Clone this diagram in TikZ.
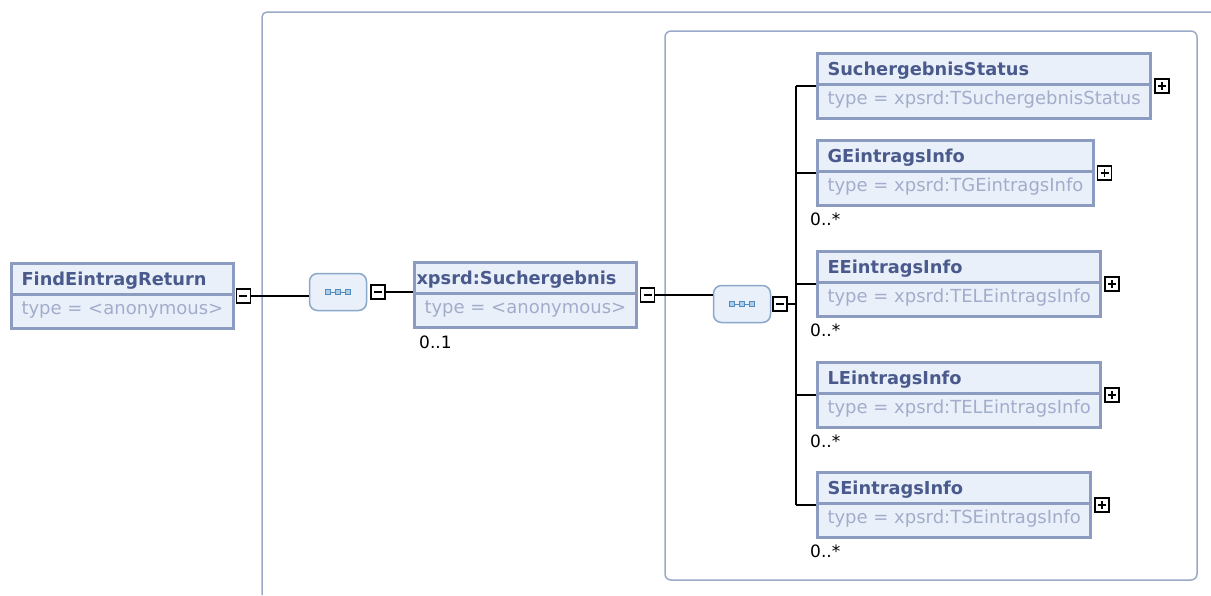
\documentclass[tikz,border=0pt]{standalone}
\usepackage{fontspec}
\setmainfont{DejaVu Sans}
\usetikzlibrary{shapes.multipart,positioning}

\definecolor{elemborder}{HTML}{8C9CC0}
\definecolor{elemfill}{HTML}{EAF0FA}
\definecolor{elemtitle}{HTML}{4A5A8C}
\definecolor{elemtype}{HTML}{A2ADCB}
\definecolor{framecol}{HTML}{9AAAC6}
\definecolor{seqborder}{HTML}{8AA8CA}
\definecolor{seqicon}{HTML}{4F8CC2}

% element box text: bold name on top, type below
\newcommand{\elemtext}[2]{\rule[-8pt]{0pt}{28pt}%
  \textcolor{elemtitle}{\fontsize{17.8}{20}\selectfont\bfseries#1}%
  \nodepart{two}\rule[-13pt]{0pt}{31pt}\textcolor{elemtype}{#2}}

\begin{document}
\begin{tikzpicture}[x=1pt, y=-1pt,
  elem/.style={rectangle split, rectangle split parts=2, rectangle split part align=left,
    draw=elemborder, line width=3pt, fill=elemfill, inner xsep=10pt, inner ysep=0pt,
    anchor=north west, font=\fontsize{18}{20}\selectfont},
  minusbox/.style={draw=black, line width=1.5pt, fill=white, minimum size=14pt,
    inner sep=0pt, anchor=west,
    path picture={\draw[line width=1.6pt]
      ([xshift=-4pt]path picture bounding box.center) --
      ([xshift=4pt]path picture bounding box.center);}},
  plusbox/.style={minusbox,
    path picture={\draw[line width=1.6pt]
      ([xshift=-4pt]path picture bounding box.center) --
      ([xshift=4pt]path picture bounding box.center)
      ([yshift=-4pt]path picture bounding box.center) --
      ([yshift=4pt]path picture bounding box.center);}},
  seq/.style={draw=seqborder, line width=1.5pt, fill=elemfill, rounded corners=8pt,
    minimum width=57pt, minimum height=37pt, inner sep=0pt,
    path picture={
      \draw[seqicon, line width=0.8pt, sharp corners]
        ([xshift=-10pt]path picture bounding box.center) --
        ([xshift=10pt]path picture bounding box.center);
      \foreach \dx in {-10,0,10}
        \filldraw[draw=seqicon, fill=seqicon!45, line width=0.9pt, sharp corners]
          ([xshift=\dx pt]path picture bounding box.center)
          +(-2.5pt,-2.5pt) rectangle +(2.5pt,2.5pt);}},
  mult/.style={anchor=north west, inner sep=0pt, font=\fontsize{17}{20}\selectfont},
  conn/.style={draw=black, line width=2pt},
  frame/.style={draw=framecol, line width=1.5pt}]

\useasboundingbox (0,0) rectangle (1211,595);

% --- frames ---
\draw[frame, rounded corners=5pt] (1211,12) -- (262,12) -- (262,595);
\draw[frame, rounded corners=6pt] (665,31) rectangle (1197,580);

% --- root element ---
\node[elem] (find) at (10,262) {\elemtext{FindEintragReturn}{type = <anonymous>}};
\node[minusbox] (findmin) at ([xshift=1pt]find.east) {};

% --- first sequence and xpsrd:Suchergebnis ---
\node[seq] (seqa) at (338,292) {};
\node[minusbox] (seqamin) at ([xshift=3pt]seqa.east) {};
\node[elem] (such) at (413,261)
  {\elemtext{\hspace*{-8pt}xpsrd:Suchergebnis}{type = <anonymous>}};
\node[minusbox] (suchmin) at ([xshift=2pt]such.east) {};
\node[mult] (suchmult) at ([xshift=6pt,yshift=-7pt]such.south west) {0..1};

% --- second sequence and its children ---
\node[seq] (seqb) at (742,304) {};
\node[minusbox] (seqbmin) at ([xshift=1pt]seqb.east) {};
\coordinate (bus) at (796,304);

\node[elem] (status) at (816,52)
  {\elemtext{SuchergebnisStatus}{type = xpsrd:TSuchergebnisStatus}};
\node[elem] (ginfo) at (816,139)
  {\elemtext{GEintragsInfo}{type = xpsrd:TGEintragsInfo}};
\node[elem] (einfo) at (816,250)
  {\elemtext{EEintragsInfo}{type = xpsrd:TELEintragsInfo}};
\node[elem] (linfo) at (816,361)
  {\elemtext{LEintragsInfo}{type = xpsrd:TELEintragsInfo}};
\node[elem] (sinfo) at (816,471)
  {\elemtext{SEintragsInfo}{type = xpsrd:TSEintragsInfo}};

\foreach \c in {status,ginfo,einfo,linfo,sinfo}
  \node[plusbox] (\c plus) at ([xshift=2pt]\c.east) {};
\foreach \c in {ginfo,einfo,linfo,sinfo}
  \node[mult] (\c mult) at ([xshift=-6pt,yshift=-6pt]\c.south west) {0..*};

% --- connectors ---
\draw[conn] (findmin.east) -- (findmin.east -| seqa.west);
\draw[conn] (seqamin.east) -- (seqamin.east -| such.west);
\draw[conn] (suchmin.east) -- (suchmin.east -| seqb.west);
\draw[conn] (seqbmin.east) -- (bus);
\draw[conn] (bus |- status.west) -- (bus |- sinfo.west);
\foreach \c in {status,ginfo,einfo,linfo,sinfo}
  \draw[conn] (bus |- \c.west) -- (\c.west);
\end{tikzpicture}
\end{document}
